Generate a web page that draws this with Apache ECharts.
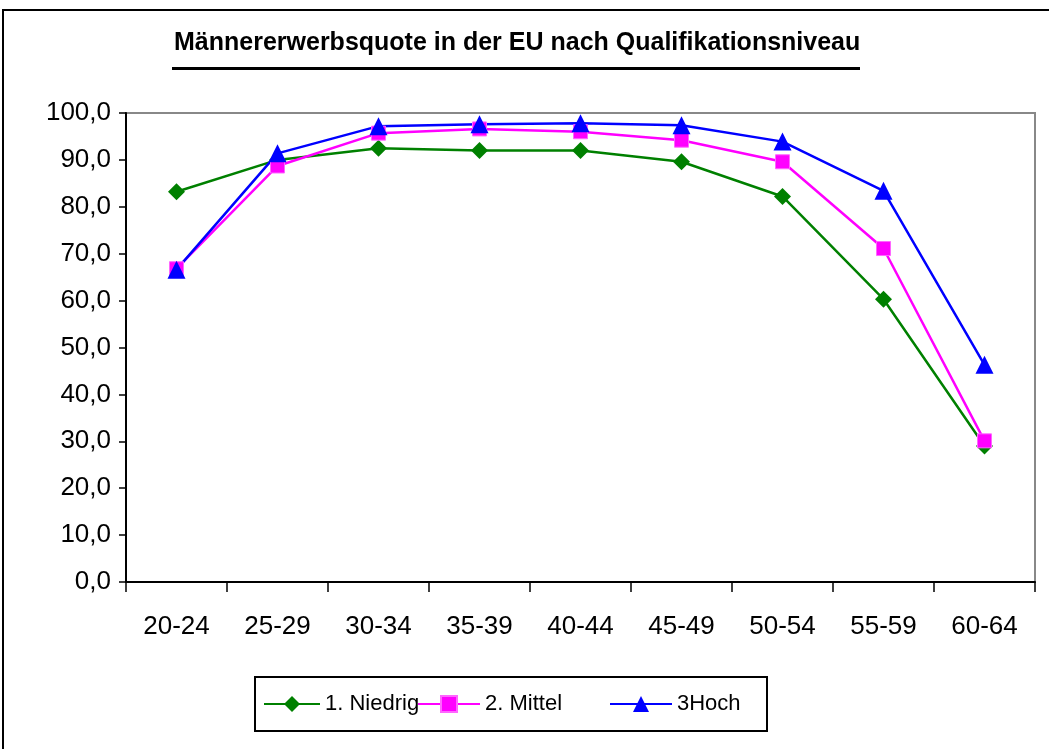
<!DOCTYPE html>
<html>
<head>
<meta charset="utf-8">
<script src="https://cdn.jsdelivr.net/npm/echarts@6/dist/echarts.min.js"></script>
<style>
  html, body { margin: 0; padding: 0; background: #fff; }
  #main { width: 1049px; height: 749px; }
</style>
</head>
<body>
<div id="main"></div>
<script>
/* Daten */
var altersgruppen = ['20-24', '25-29', '30-34', '35-39', '40-44', '45-49', '50-54', '55-59', '60-64'];
var niedrig = [83.2, 90.0, 92.5, 92.0, 92.0, 89.6, 82.2, 60.3, 29.0];
var mittel = [66.8, 88.7, 95.7, 96.6, 96.0, 94.2, 89.6, 71.1, 30.1];
var hoch = [66.6, 91.4, 97.2, 97.6, 97.8, 97.4, 93.9, 83.4, 46.3];
var yTicks = [0, 10, 20, 30, 40, 50, 60, 70, 80, 90, 100];

var chart = echarts.init(document.getElementById('main'));

var legendFont = { fontFamily: 'Liberation Sans', fontSize: 22, color: '#000' };

var option = {
    backgroundColor: '#fff',
    animation: false,
    graphic: [
        /* Rahmen aussen */
        { type: 'rect', shape: { x: 3, y: 10, width: 1100, height: 800 },
          style: { fill: 'none', stroke: '#000', lineWidth: 2 } },
        /* Titel */
        { type: 'text', left: 174, top: 31,
          style: { text: 'Männererwerbsquote in der EU nach Qualifikationsniveau',
                   font: 'bold 25px "Liberation Sans"', fill: '#000' } },
        { type: 'rect', shape: { x: 172, y: 67, width: 688, height: 3 }, style: { fill: '#000' } },
        /* Legendenrahmen */
        { type: 'rect', shape: { x: 255, y: 677, width: 512, height: 54 },
          style: { fill: 'none', stroke: '#000', lineWidth: 2 } }
    ],
    grid: { left: 126, top: 113, right: 14, bottom: 167, show: true, borderColor: '#888', borderWidth: 2 },
    legend: [
        { data: ['1. Niedrig'], left: 263, top: 693, itemWidth: 56, itemHeight: 20, itemGap: 0, textStyle: legendFont, padding: 0 },
        { data: ['2. Mittel'], left: 417, top: 693, itemWidth: 62, itemHeight: 20, itemGap: 0, textStyle: legendFont, padding: 0 },
        { data: ['3Hoch'], left: 609, top: 693, itemWidth: 62, itemHeight: 20, itemGap: 0, textStyle: legendFont, padding: 0 }
    ],
    xAxis: {
        type: 'category',
        data: altersgruppen,
        boundaryGap: true,
        axisLine: { lineStyle: { color: '#000', width: 2 } },
        axisTick: { show: true, length: 10, lineStyle: { color: '#000', width: 1.5 } },
        axisLabel: { color: '#000', fontSize: 26, fontFamily: 'Liberation Sans', margin: 32 }
    },
    yAxis: {
        type: 'value',
        min: yTicks[0],
        max: yTicks[yTicks.length - 1],
        interval: 10,
        splitLine: { show: false },
        axisLine: { show: true, lineStyle: { color: '#000', width: 2 } },
        axisTick: { show: true, length: 7, lineStyle: { color: '#000', width: 1.5 } },
        axisLabel: {
            color: '#000', fontSize: 26, fontFamily: 'Liberation Sans', margin: 15,
            formatter: function (v) { return v.toFixed(1).replace('.', ','); }
        }
    },
    series: [
        { name: '1. Niedrig', type: 'line', data: niedrig, color: '#008000',
          symbol: 'diamond', symbolSize: 17, lineStyle: { width: 2.5 },
          itemStyle: { color: '#008000' } },
        { name: '2. Mittel', type: 'line', data: mittel, color: '#ff00ff',
          symbol: 'rect', symbolSize: 14, lineStyle: { width: 2.5 },
          itemStyle: { color: '#ff00ff', borderColor: '#ff66ff', borderWidth: 1 } },
        { name: '3Hoch', type: 'line', data: hoch, color: '#0000ff',
          symbol: 'triangle', symbolSize: 18, lineStyle: { width: 2.5 },
          itemStyle: { color: '#0000ff' } }
    ]
};

chart.setOption(option);
</script>
</body>
</html>
